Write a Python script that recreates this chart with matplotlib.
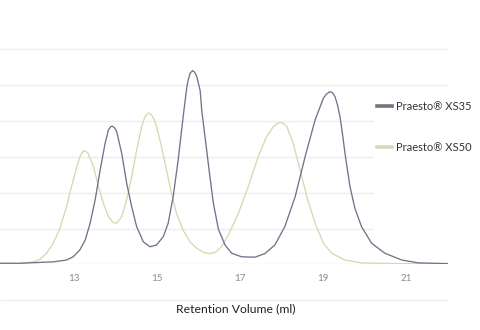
import matplotlib.pyplot as plt
from matplotlib.lines import Line2D

plt.rcParams['font.family'] = ['Lato', 'DejaVu Sans']

# retention volume (ml) and detector response for each resin
vol_xs35 = [11.22, 11.70, 12.50, 12.82, 12.98, 13.14, 13.27, 13.39, 13.51, 13.63,
            13.75, 13.83, 13.88, 13.92, 13.98, 14.03, 14.15, 14.27, 14.39, 14.51,
            14.67, 14.83, 14.99, 15.15, 15.27, 15.39, 15.51, 15.63, 15.72, 15.76,
            15.80, 15.86, 15.91, 15.96, 16.04, 16.08, 16.18, 16.28, 16.36, 16.48,
            16.64, 16.80, 17.04, 17.36, 17.60, 17.84, 18.08, 18.33, 18.57, 18.81,
            19.01, 19.09, 19.17, 19.23, 19.29, 19.35, 19.41, 19.47, 19.53, 19.65,
            19.77, 19.93, 20.17, 20.49, 20.90, 21.30, 22.01]
sig_xs35 = [0.03, 0.03, 0.07, 0.12, 0.21, 0.40, 0.68, 1.15, 1.80, 2.63,
            3.38, 3.75, 3.84, 3.86, 3.81, 3.70, 3.10, 2.26, 1.61, 1.05,
            0.63, 0.49, 0.54, 0.77, 1.15, 1.89, 2.91, 4.12, 4.96, 5.18,
            5.34, 5.41, 5.36, 5.24, 4.85, 4.28, 3.35, 2.40, 1.70, 0.98,
            0.54, 0.31, 0.21, 0.20, 0.30, 0.54, 1.05, 1.89, 3.01, 4.03,
            4.64, 4.76, 4.82, 4.79, 4.68, 4.45, 4.12, 3.64, 3.10, 2.17,
            1.56, 1.05, 0.59, 0.31, 0.12, 0.04, 0.02]

vol_xs50 = [11.22, 11.70, 12.02, 12.18, 12.34, 12.50, 12.66, 12.82, 12.94, 13.07,
            13.14, 13.19, 13.24, 13.29, 13.34, 13.47, 13.59, 13.71, 13.83, 13.95,
            14.03, 14.15, 14.27, 14.39, 14.51, 14.63, 14.71, 14.79, 14.87, 14.93,
            14.99, 15.11, 15.23, 15.35, 15.47, 15.63, 15.80, 15.96, 16.11, 16.25,
            16.40, 16.56, 16.72, 16.96, 17.20, 17.44, 17.64, 17.80, 17.89, 17.98,
            18.06, 18.13, 18.28, 18.45, 18.61, 18.81, 19.01, 19.21, 19.53, 19.93,
            20.80, 22.01]
sig_xs50 = [0.02, 0.02, 0.07, 0.14, 0.31, 0.59, 1.00, 1.61, 2.17, 2.73,
            3.00, 3.11, 3.17, 3.15, 3.10, 2.73, 2.17, 1.70, 1.33, 1.16,
            1.15, 1.33, 1.80, 2.45, 3.19, 3.84, 4.12, 4.23, 4.17, 4.04,
            3.84, 3.28, 2.63, 1.98, 1.42, 0.95, 0.62, 0.45, 0.34, 0.30,
            0.33, 0.50, 0.82, 1.42, 2.17, 3.01, 3.56, 3.84, 3.93, 3.96,
            3.92, 3.84, 3.38, 2.63, 1.89, 1.15, 0.59, 0.31, 0.12, 0.04,
            0.02, 0.02]

xticks = [13, 15, 17, 19, 21]
labels = ['Praesto® XS35', 'Praesto® XS50']
dark = '#74728b'
pale = '#d5daac'

fig = plt.figure(figsize=(4.8, 3.3), dpi=100)
ax = fig.add_axes([0, 0.199, 0.9333, 0.801])
ax.set_xlim(11.217, 22.012)
ax.set_ylim(0, 7.38)

# light horizontal grid, shortened where the legend sits
grid_c = '#ededed'
ax.hlines([5, 6], 11.217, 22.012, color=grid_c, lw=1, zorder=0)
ax.hlines([1, 2, 3, 4], 11.217, 20.2, color=grid_c, lw=1, zorder=0)
ax.hlines([0], 11.217, 22.012, color='#e6e6e6', lw=1, zorder=0)
ax.hlines([-1], 11.217, 22.012, color=grid_c, lw=1, zorder=0, clip_on=False)

ax.plot(vol_xs50, sig_xs50, color=pale, lw=0.95)
ax.plot(vol_xs35, sig_xs35, color=dark, lw=0.95)

for s in ax.spines.values():
    s.set_visible(False)
ax.set_yticks([])
ax.set_xticks(xticks)
ax.tick_params(axis='x', length=0, pad=7, labelsize=7, labelcolor='#8a8a8a')

ax.set_xlabel('Retention Volume (ml)', fontsize=8.8, color='#222222')
ax.xaxis.label.set_va('center')
ax.xaxis.set_label_coords(236 / 448, -0.169)

handles = [Line2D([], [], color='#727280', lw=2.6),
           Line2D([], [], color='#d3d8c0', lw=2.6)]
fig.legend(handles, labels, loc='upper left', bbox_to_anchor=(0.785, 0.693),
           frameon=False, fontsize=8, handlelength=1.35, handletextpad=0.4,
           labelspacing=2.65, borderpad=0, borderaxespad=0,
           labelcolor='#333333')

fig.savefig('out.png', dpi=100)
